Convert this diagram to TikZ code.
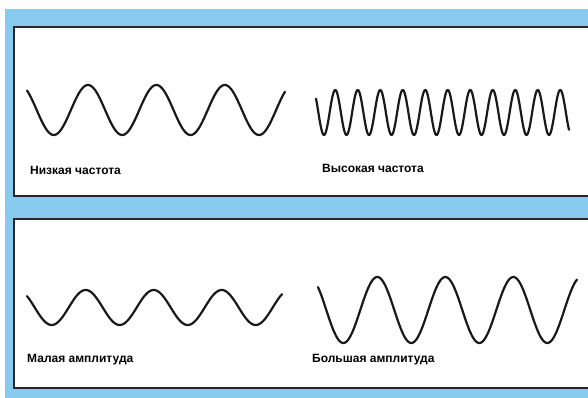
\documentclass[tikz,border=0pt]{standalone}
\usepackage{fontspec}
\setmainfont{Liberation Sans}
\usetikzlibrary{calc, positioning}
\definecolor{bgblue}{RGB}{135,202,238}

\begin{document}
\begin{tikzpicture}[
        x=1pt, y=-1pt,
        panel/.style={fill=white},
        frame/.style={draw=black!85, line width=1.8pt},
        wave/.style={draw=black!90, line width=2.2pt, line cap=round, line join=round},
        lbl/.style={anchor=west, inner sep=0pt, font=\bfseries\fontsize{12}{14}\selectfont}
    ]
    \useasboundingbox (0,0) rectangle (588,398);
    % фон
    \fill[white] (0,0) rectangle (588,398);
    \fill[bgblue] (5,9) rectangle (588,398);

    % панели
    \fill[panel] (14,27) rectangle (588,196);
    \draw[frame] (588,27) -- (14,27) -- (14,196) -- (588,196);
    \fill[panel] (14,219) rectangle (588,388);
    \draw[frame] (588,219) -- (14,219) -- (14,388) -- (588,388);

    % частота
    \draw[wave] plot[domain=27:285, samples=240] (\x, {110 + 25*cos(5.263*(\x-53.8))});
    \draw[wave] plot[domain=316:569, samples=400] (\x, {112.5 + 22.5*cos(16*(\x-324))});
    \node[lbl] (low) at (30,170) {Низкая частота};
    \node[lbl] (high) at (322,168) {Высокая частота};

    % амплитуда
    \draw[wave] plot[domain=27:282, samples=240] (\x, {307.5 + 17.5*cos(5.294*(\x-51.7))});
    \draw[wave] plot[domain=318:577, samples=240] (\x, {310 + 33*cos(5.294*(\x-343.3))});
    \node[lbl] (small) at (27,360) {Малая амплитуда};
    \node[lbl] (large) at (312,360) {Большая амплитуда};

\end{tikzpicture}
\end{document}
